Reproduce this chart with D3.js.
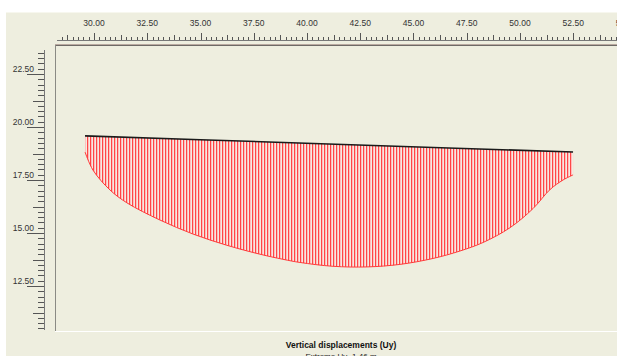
<!DOCTYPE html>
<html>
<head>
<meta charset="utf-8">
<script src="https://cdn.jsdelivr.net/npm/d3@7"></script>
<style>
  html, body { margin: 0; padding: 0; background: #ffffff; }
  svg { display: block; }
  text { font-family: "Liberation Sans", Arial, sans-serif; }
</style>
</head>
<body>
<svg id="chart" width="617" height="356"></svg>
<script>
// Ground surface (x, y in m)
const surfaceX = [29.58, 35.0, 41.0, 47.0, 52.49];
const surfaceY = [19.58, 19.40, 19.20, 19.00, 18.82];

// Slip surface, left to right (x, y in m)
const slipX = [29.58, 29.95, 30.75, 31.55, 33.10, 34.65, 36.24, 37.79, 38.87, 39.67,
               41.22, 42.82, 44.37, 45.92, 47.18, 48.26, 49.53, 50.61, 51.41, 52.02, 52.49];
const slipY = [18.82, 17.97, 17.03, 16.42, 15.61, 14.95, 14.42, 14.00, 13.76, 13.61,
               13.43, 13.40, 13.52, 13.80, 14.15, 14.55, 15.25, 16.15, 17.05, 17.50, 17.74];

// Ruler labels
const xTickLabels = ["30.00", "32.50", "35.00", "37.50", "40.00", "42.50", "45.00", "47.50", "50.00", "52.50", "55.00"];
const yTickLabels = ["22.50", "20.00", "17.50", "15.00", "12.50"];

const titleText = "Vertical displacements (Uy)";
const subtitleText = "Extreme Uy -1.46 m";

const svg = d3.select("#chart");
const W = 617, H = 356;

const x = d3.scaleLinear().domain([30, 52.5]).range([94, 94 + 22.5 * 21.3]);
const y = d3.scaleLinear().domain([20, 12.5]).range([127, 127 + 7.5 * 21.2]);

// Window background
svg.append("rect").attr("x", 0).attr("y", 0).attr("width", W).attr("height", H).attr("fill", "#ffffff");
svg.append("rect").attr("x", 6).attr("y", 12).attr("width", W - 6).attr("height", H - 12).attr("fill", "#eeeedf");
svg.append("line").attr("x1", 6).attr("x2", W).attr("y1", 12.5).attr("y2", 12.5).attr("stroke", "#f7f7ee");

const frame = { left: 55, top: 45, bottom: 331, right: W };

// Top ruler
const topRuler = svg.append("g");
const spineY = 40;
const xMinorTicks = d3.range(28.5, 56.01, 0.25);
xMinorTicks.forEach(v => {
  const px = Math.round(x(v)) + 0.5;
  if (px < frame.left + 2 || px > W) return;
  const k = Math.round(v / 0.25);
  const len = (k % 10 === 0) ? 7 : (k % 5 === 0 ? 5 : 3);
  topRuler.append("line")
    .attr("x1", px).attr("x2", px)
    .attr("y1", spineY).attr("y2", spineY - len)
    .attr("stroke", "#555").attr("stroke-width", 1);
});
topRuler.append("line")
  .attr("x1", frame.left + 2).attr("x2", W)
  .attr("y1", spineY + 0.5).attr("y2", spineY + 0.5)
  .attr("stroke", "#777");
xTickLabels.forEach(t => {
  topRuler.append("text")
    .attr("x", x(+t)).attr("y", 26)
    .attr("text-anchor", "middle")
    .attr("font-size", 8.5)
    .attr("fill", "#333")
    .text(t);
});

// Left ruler
const leftRuler = svg.append("g");
const spineX = 44;
const yMinorTicks = d3.range(10.5, 23.76, 0.25);
yMinorTicks.forEach(v => {
  const py = Math.round(y(v)) + 0.5;
  if (py < 50 || py > 330) return;
  const k = Math.round(v / 0.25);
  const len = (k % 10 === 0) ? 17 : (k % 5 === 0 ? 11 : 6);
  leftRuler.append("line")
    .attr("x1", spineX).attr("x2", spineX - len)
    .attr("y1", py).attr("y2", py)
    .attr("stroke", "#555").attr("stroke-width", 1);
});
leftRuler.append("line")
  .attr("x1", spineX + 0.5).attr("x2", spineX + 0.5)
  .attr("y1", 50).attr("y2", 330)
  .attr("stroke", "#777");
yTickLabels.forEach(t => {
  leftRuler.append("text")
    .attr("x", 34).attr("y", y(+t) - 2)
    .attr("text-anchor", "end")
    .attr("font-size", 8.5)
    .attr("fill", "#333")
    .text(t);
});

// Plot frame (sunken border)
svg.append("line").attr("x1", frame.left).attr("x2", W).attr("y1", frame.top - 0.5).attr("y2", frame.top - 0.5).attr("stroke", "#b9a9a0");
svg.append("line").attr("x1", frame.left).attr("x2", W).attr("y1", frame.top + 0.5).attr("y2", frame.top + 0.5).attr("stroke", "#6e6a66");
svg.append("line").attr("x1", frame.left + 0.5).attr("x2", frame.left + 0.5).attr("y1", frame.top).attr("y2", frame.bottom).attr("stroke", "#8a8a84");
svg.append("line").attr("x1", frame.left).attr("x2", W).attr("y1", frame.bottom + 0.5).attr("y2", frame.bottom + 0.5).attr("stroke", "#ffffff");

// Hatch pattern for the sliding mass
const defs = svg.append("defs");
const pat = defs.append("pattern")
  .attr("id", "hatch")
  .attr("patternUnits", "userSpaceOnUse")
  .attr("width", 3).attr("height", 10);
pat.append("rect").attr("x", 0).attr("y", 0).attr("width", 1).attr("height", 10).attr("fill", "#ff4646");
pat.append("rect").attr("x", 1).attr("y", 0).attr("width", 1).attr("height", 10).attr("fill", "#ffbcbc");
pat.append("rect").attr("x", 2).attr("y", 0).attr("width", 1).attr("height", 10).attr("fill", "#f5eae0");

const surface = surfaceX.map((v, i) => [v, surfaceY[i]]);
const slip = slipX.map((v, i) => [v, slipY[i]]);

const topLine = d3.line().x(d => x(d[0])).y(d => y(d[1]));
const slipLine = d3.line().x(d => x(d[0])).y(d => y(d[1])).curve(d3.curveCatmullRom);

// Closed outline: surface left-to-right, then down the right edge and back along the slip surface
const slipRev = slip.slice().reverse();
const massPath = topLine(surface) + "L" + slipLine(slipRev).slice(1) + "Z";

svg.append("path")
  .attr("d", massPath)
  .attr("fill", "url(#hatch)")
  .attr("stroke", "none");

svg.append("path")
  .attr("d", slipLine(slip))
  .attr("fill", "none")
  .attr("stroke", "#ff3a3a")
  .attr("stroke-width", 1);

svg.append("path")
  .attr("d", topLine(surface))
  .attr("fill", "none")
  .attr("stroke", "#1a1a1a")
  .attr("stroke-width", 1.6);

// Titles
svg.append("text")
  .attr("x", 341).attr("y", 348)
  .attr("text-anchor", "middle")
  .attr("font-size", 8.5)
  .attr("font-weight", "bold")
  .attr("fill", "#111")
  .text(titleText);
svg.append("text")
  .attr("x", 341).attr("y", 359)
  .attr("text-anchor", "middle")
  .attr("font-size", 8)
  .attr("fill", "#222")
  .text(subtitleText);
</script>
</body>
</html>
